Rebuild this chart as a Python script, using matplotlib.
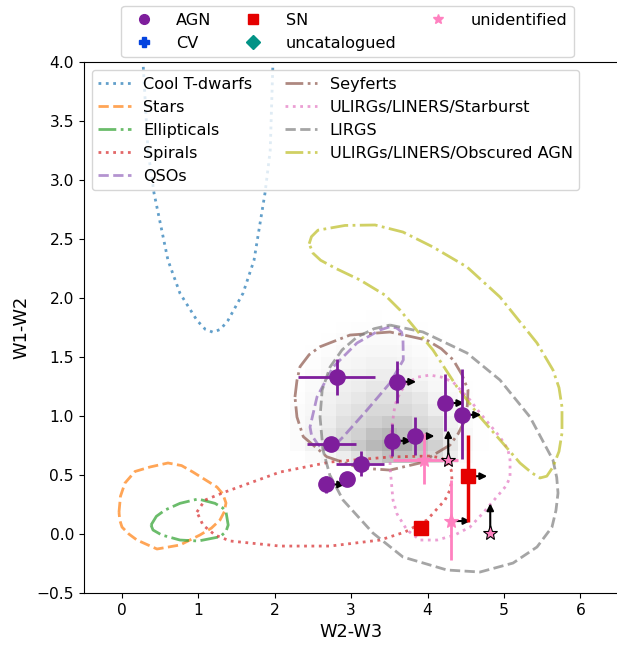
import numpy as np
import matplotlib
matplotlib.use('Agg')
import matplotlib.pyplot as plt
from matplotlib.lines import Line2D

# ---- colour-colour regions (W2-W3, W1-W2) ----
tdwarf_x = [0.25, 0.275, 0.34, 0.419, 0.602, 0.759, 0.982, 1.09, 1.191, 1.29, 1.387, 1.584, 1.728, 1.872, 1.94, 1.976, 2.0]
tdwarf_y = [4.27, 4.0, 3.25, 2.89, 2.32, 2.04, 1.81, 1.735, 1.71, 1.735, 1.81, 2.04, 2.32, 2.89, 3.25, 4.0, 4.27]

stars_x = [-0.039, -0.02, 0.039, 0.17, 0.366, 0.602, 0.78, 0.929, 1.243, 1.32, 1.361, 1.34, 1.283,
           1.17, 1.021, 0.759, 0.458, 0.196, 0.09, 0.0, -0.03]
stars_y = [0.186, 0.32, 0.432, 0.53, 0.568, 0.602, 0.58, 0.525, 0.398, 0.34, 0.263, 0.19, 0.119,
           0.05, -0.008, -0.093, -0.127, -0.051, 0.0, 0.059, 0.12]

ellip_x = [0.38, 0.45, 0.563, 0.759, 0.995, 1.217, 1.32, 1.361, 1.39, 1.36, 1.283, 0.999, 0.759, 0.519, 0.406]
ellip_y = [0.076, 0.15, 0.203, 0.26, 0.297, 0.26, 0.22, 0.189, 0.076, 0.02, -0.023, -0.059, -0.051, -0.008, 0.034]

spiral_x = [0.98, 1.086, 1.348, 2.068, 2.723, 3.508, 4.031, 4.18, 4.254, 4.31, 4.319, 4.29, 4.228,
            3.992, 3.704, 3.377, 2.723, 2.068, 1.414, 1.217, 1.06]
spiral_y = [0.186, 0.288, 0.356, 0.525, 0.61, 0.653, 0.661, 0.645, 0.61, 0.54, 0.458, 0.37, 0.288,
            0.119, 0.017, -0.051, -0.102, -0.102, -0.059, -0.008, 0.076]

qso_x = [3.599, 3.66, 3.678, 3.682, 3.508, 3.207, 2.893, 2.723, 2.62, 2.552, 2.48, 2.461, 2.552,
         2.762, 3.076, 3.377, 3.5]
qso_y = [1.746, 1.71, 1.644, 1.475, 1.28, 1.051, 0.822, 0.712, 0.72, 0.771, 0.84, 0.907, 1.161,
         1.415, 1.619, 1.729, 1.755]

seyf_x = [2.264, 2.29, 2.33, 2.45, 2.592, 2.984, 3.508, 3.988, 4.18, 4.336, 4.45, 4.529, 4.52,
          4.49, 4.4, 4.293, 3.901, 3.508, 3.115, 2.68, 2.373, 2.29]
seyf_y = [1.161, 1.30, 1.418, 1.52, 1.587, 1.686, 1.712, 1.644, 1.57, 1.475, 1.35, 1.22, 1.09,
          0.966, 0.85, 0.754, 0.602, 0.542, 0.559, 0.655, 0.825, 0.992]

sburst_x = [3.52, 3.573, 3.64, 3.73, 3.87, 4.031, 4.18, 4.333, 4.555, 4.686, 4.948, 5.05, 5.079,
            5.079, 5.03, 4.948, 4.725, 4.555, 4.35, 4.123, 3.901, 3.73, 3.6, 3.547, 3.508]
sburst_y = [0.856, 1.093, 1.20, 1.28, 1.33, 1.347, 1.33, 1.288, 1.136, 1.025, 0.822, 0.72, 0.627,
            0.483, 0.41, 0.347, 0.178, 0.059, -0.01, -0.051, -0.051, 0.034, 0.17, 0.288, 0.568]

lirg_x = [3.508, 3.94, 4.516, 4.948, 5.34, 5.641, 5.69, 5.707, 5.68, 5.628, 5.432, 5.118, 4.686,
          4.254, 3.678, 3.285, 2.893, 2.72, 2.631, 2.592, 2.62, 2.723, 2.88, 3.076, 3.3]
lirg_y = [1.771, 1.712, 1.534, 1.305, 0.992, 0.627, 0.48, 0.347, 0.2, 0.059, -0.11, -0.246, -0.322,
          -0.305, -0.195, 0.008, 0.288, 0.50, 0.712, 0.992, 1.22, 1.415, 1.56, 1.669, 1.74]

obsc_x = [2.45, 2.48, 2.565, 2.919, 3.312, 3.678, 4.071, 4.516, 4.948, 5.432, 5.641, 5.72, 5.759,
          5.759, 5.72, 5.641, 5.56, 5.471, 5.36, 5.209, 4.948, 4.686, 4.385, 4.071, 3.639, 3.442,
          3.115, 2.788, 2.6, 2.5]
obsc_y = [2.46, 2.52, 2.575, 2.615, 2.619, 2.559, 2.432, 2.263, 2.008, 1.619, 1.39, 1.24, 1.076,
          0.856, 0.70, 0.568, 0.49, 0.475, 0.52, 0.602, 0.797, 0.992, 1.246, 1.559, 1.898, 2.025,
          2.153, 2.254, 2.32, 2.38]

# ---- background source density (relative), rows = W1-W2 bins, cols = W2-W3 bins ----
dens_xedges = np.round(np.arange(2.2, 4.81, 0.2), 2)
dens_yedges = np.round(np.arange(0.6, 1.91, 0.1), 2)
density = np.array([
    [0.00, 0.05, 0.10, 0.20, 0.30, 0.40, 0.50, 0.50, 0.45, 0.35, 0.20, 0.05, 0.00],
    [0.05, 0.15, 0.25, 0.35, 0.45, 0.55, 0.60, 0.60, 0.50, 0.40, 0.25, 0.08, 0.02],
    [0.05, 0.15, 0.25, 0.35, 0.40, 0.50, 0.55, 0.50, 0.45, 0.35, 0.20, 0.08, 0.02],
    [0.05, 0.12, 0.20, 0.30, 0.35, 0.40, 0.45, 0.45, 0.35, 0.30, 0.15, 0.05, 0.02],
    [0.05, 0.10, 0.18, 0.25, 0.30, 0.35, 0.35, 0.35, 0.30, 0.20, 0.10, 0.05, 0.00],
    [0.03, 0.08, 0.15, 0.20, 0.25, 0.30, 0.30, 0.30, 0.25, 0.15, 0.08, 0.03, 0.00],
    [0.02, 0.06, 0.12, 0.18, 0.20, 0.25, 0.25, 0.22, 0.18, 0.10, 0.05, 0.02, 0.00],
    [0.02, 0.05, 0.10, 0.15, 0.18, 0.20, 0.20, 0.18, 0.12, 0.08, 0.03, 0.00, 0.00],
    [0.00, 0.03, 0.07, 0.10, 0.12, 0.15, 0.15, 0.12, 0.08, 0.05, 0.02, 0.00, 0.00],
    [0.00, 0.02, 0.04, 0.07, 0.08, 0.10, 0.10, 0.08, 0.05, 0.03, 0.00, 0.00, 0.00],
    [0.00, 0.00, 0.02, 0.04, 0.05, 0.06, 0.06, 0.05, 0.03, 0.02, 0.00, 0.00, 0.00],
    [0.00, 0.00, 0.00, 0.02, 0.03, 0.03, 0.03, 0.02, 0.02, 0.00, 0.00, 0.00, 0.00],
    [0.00, 0.00, 0.00, 0.00, 0.01, 0.02, 0.01, 0.01, 0.00, 0.00, 0.00, 0.00, 0.00],
])

# ---- sources ----
agn_x = [2.81, 3.60, 4.23, 4.45, 2.74, 3.54, 3.84, 3.13, 2.94, 2.67]
agn_y = [1.33, 1.29, 1.11, 1.01, 0.76, 0.79, 0.83, 0.59, 0.47, 0.42]
agn_xlo = [0.50, 0, 0, 0, 0.32, 0, 0, 0.33, 0.10, 0]
agn_xhi = [0.50, 0, 0, 0, 0.32, 0, 0, 0.30, 0.10, 0]
agn_ylo = [0.15, 0.18, 0.24, 0.37, 0.04, 0.13, 0.16, 0.10, 0.05, 0.07]
agn_yhi = [0.15, 0.18, 0.25, 0.39, 0.04, 0.14, 0.16, 0.11, 0.05, 0.07]
agn_xlim = [0, 1, 1, 1, 0, 1, 1, 0, 0, 1]

sn_x = [4.53, 3.92]
sn_y = [0.49, 0.05]
sn_ylo = [0.39, 0]
sn_yhi = [0.35, 0]
sn_xlim = [1, 0]

unid_x = [3.95, 4.27, 4.31, 4.82]
unid_y = [0.63, 0.63, 0.11, 0.01]
unid_xlo = [0.40, 0, 0, 0]
unid_xhi = [0.45, 0, 0, 0]
unid_ylo = [0.21, 0, 0.33, 0]
unid_yhi = [0.23, 0, 0.35, 0]
unid_xlim = [0, 0, 1, 0]
unid_ylim = [0, 1, 0, 1]

ARROW = 0.25

regions = [
    ('Cool T-dwarfs', tdwarf_x, tdwarf_y, ':', False),
    ('Stars', stars_x, stars_y, '--', True),
    ('Ellipticals', ellip_x, ellip_y, '-.', True),
    ('Spirals', spiral_x, spiral_y, ':', True),
    ('QSOs', qso_x, qso_y, '--', True),
    ('Seyferts', seyf_x, seyf_y, '-.', True),
    ('ULIRGs/LINERS/Starburst', sburst_x, sburst_y, ':', True),
    ('LIRGS', lirg_x, lirg_y, '--', True),
    ('ULIRGs/LINERS/Obscured AGN', obsc_x, obsc_y, '-.', True),
]

FS = 11.6

fig = plt.figure(figsize=(6.17, 6.46), dpi=100)
ax = fig.add_axes([0.1358, 0.082, 0.8668, 0.822])

dens = np.ma.masked_equal(density, 0)
ax.pcolormesh(dens_xedges, dens_yedges, dens, cmap='Greys', vmin=0, vmax=1.4, zorder=0)

cols = plt.get_cmap('tab10').colors
line_handles = []
for i, (name, xs, ys, ls, closed) in enumerate(regions):
    xs = list(xs) + ([xs[0]] if closed else [])
    ys = list(ys) + ([ys[0]] if closed else [])
    ln, = ax.plot(xs, ys, ls=ls, color=cols[i], alpha=0.7, lw=2, label=name, zorder=1)
    line_handles.append(ln)


def arrows(ax, xs, ys, flags, dx, dy):
    for x, y, f in zip(xs, ys, flags):
        if f:
            ax.annotate('', xy=(x + dx, y + dy), xytext=(x, y),
                        arrowprops=dict(arrowstyle='-|>', color='k', lw=1.5,
                                        mutation_scale=10, shrinkA=0, shrinkB=0),
                        zorder=3)


arrows(ax, agn_x, agn_y, agn_xlim, ARROW, 0)
arrows(ax, sn_x, sn_y, sn_xlim, ARROW, 0)
arrows(ax, unid_x, unid_y, unid_xlim, ARROW, 0)
arrows(ax, unid_x, unid_y, unid_ylim, 0, ARROW)

purple, blue, red, teal, pink = '#7e1e9c', '#0343df', '#e50000', '#029386', '#ff81c0'

ax.errorbar(agn_x, agn_y, xerr=[agn_xlo, agn_xhi], yerr=[agn_ylo, agn_yhi], fmt='o',
            color=purple, ms=11, elinewidth=2, capsize=0, zorder=4)
ax.errorbar(sn_x, sn_y, yerr=[sn_ylo, sn_yhi], fmt='s', color=red, ms=10,
            elinewidth=2.5, capsize=0, zorder=4)
ax.errorbar(unid_x, unid_y, xerr=[unid_xlo, unid_xhi], yerr=[unid_ylo, unid_yhi], fmt='none',
            ecolor=pink, elinewidth=2, capsize=0, zorder=4)
for x, y, f in zip(unid_x, unid_y, unid_ylim):
    ax.plot(x, y, '*', color=pink, ms=11, mec='k' if f else pink, mew=0.8, zorder=5)

ax.set_xlim(-0.5, 6.5)
ax.set_ylim(-0.5, 4.0)
ax.set_xlabel('W2-W3', fontsize=12.8)
ax.set_ylabel('W1-W2', fontsize=12.8)
ax.tick_params(labelsize=11.2)
ax.spines['right'].set_visible(False)

leg2 = ax.legend(handles=line_handles, loc='upper left', ncol=2, fontsize=FS,
                 handlelength=2.0, columnspacing=2.0, labelspacing=0.5)
ax.add_artist(leg2)

mk = [Line2D([], [], ls='', marker='o', color=purple, ms=7, label='AGN'),
      Line2D([], [], ls='', marker='P', color=blue, ms=7, label='CV'),
      Line2D([], [], ls='', marker='s', color=red, ms=7, label='SN'),
      Line2D([], [], ls='', marker='D', color=teal, ms=7, label='uncatalogued'),
      Line2D([], [], ls='', marker='*', color=pink, ms=7, label='unidentified')]
ax.legend(handles=mk, loc='lower center', bbox_to_anchor=(0.493, 1.0), ncol=3,
          fontsize=FS, handletextpad=1.0, columnspacing=1.6, borderaxespad=0.3)

fig.savefig('out.png', dpi=100)
